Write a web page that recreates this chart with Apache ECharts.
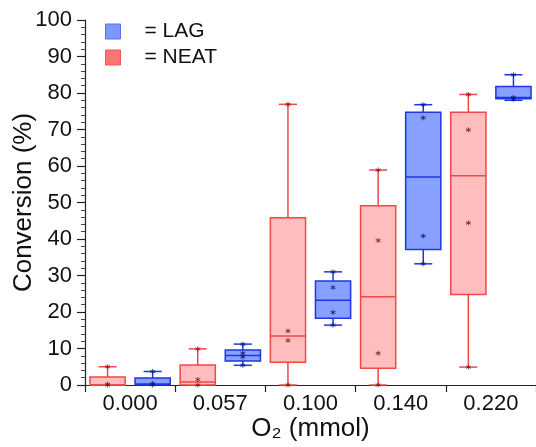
<!DOCTYPE html>
<html>
<head>
<meta charset="utf-8">
<script src="https://cdn.jsdelivr.net/npm/echarts@6/dist/echarts.min.js"></script>
<style>
html,body{margin:0;padding:0;background:#fff;}
#chart{width:536px;height:447px;}
</style>
</head>
<body>
<div id="chart"></div>
<script>
// ---- data ----
const categories = ['0.000', '0.057', '0.100', '0.140', '0.220'];
const yTicks = [0, 10, 20, 30, 40, 50, 60, 70, 80, 90, 100];
// [min, Q1, median, Q3, max]
const neatStats = [
  [0, 0, 0, 2.2, 5.0],
  [0, 0, 0.8, 5.5, 9.9],
  [0, 6.2, 13.4, 45.8, 76.9],
  [0, 4.6, 24.2, 49.1, 58.9],
  [4.9, 24.8, 57.3, 74.7, 79.6]
];
const lagStats = [
  [0, 0.1, 0.3, 1.9, 3.7],
  [5.4, 6.6, 8.1, 9.6, 11.2],
  [16.4, 18.3, 23.2, 28.5, 31.0],
  [33.2, 37.1, 57.0, 74.7, 76.8],
  [78.0, 78.4, 78.8, 81.8, 85.0]
];
// individual measurements per category
const neatPoints = [
  [0, 0.2, 5.0],
  [0, 1.5, 9.9],
  [0, 12.2, 14.8, 76.9],
  [0, 8.7, 39.6, 58.9],
  [4.9, 44.4, 69.9, 79.6]
];
const lagPoints = [
  [0, 0.4, 3.7],
  [5.4, 7.7, 8.7, 11.2],
  [16.4, 19.9, 26.7, 31.0],
  [33.2, 40.8, 73.2, 76.8],
  [78.3, 78.8, 85.0]
];

// ---- build ----
const toBoxData = stats => stats.map((s, i) => [i].concat(s));
const toPointData = pts => {
  const out = [];
  pts.forEach((arr, i) => arr.forEach(v => out.push([i, v])));
  return out;
};

const NEAT = {stroke: '#f04848', fill: '#ffbdbd', pt: '#7a1a1a', legend: '#ff7474'};
const LAG = {stroke: '#1f35e6', fill: '#88a0ff', pt: '#101870', legend: '#7e96ff'};

function boxRenderer(offsetFrac, col) {
  return function (params, api) {
    const idx = api.value(0);
    const band = api.size([1, 0])[0];
    const cx = api.coord([idx, 0])[0] + offsetFrac * band;
    const w = band * 0.39;
    const cap = band * 0.2;
    const y = k => api.coord([idx, api.value(k)])[1];
    const yMin = y(1), yQ1 = y(2), yMed = y(3), yQ3 = y(4), yMax = y(5);
    const ls = {stroke: col.stroke, lineWidth: 1.5};
    return {
      type: 'group',
      children: [
        {type: 'line', shape: {x1: cx, y1: yMax, x2: cx, y2: yQ3}, style: ls},
        {type: 'line', shape: {x1: cx, y1: yQ1, x2: cx, y2: yMin}, style: ls},
        {type: 'line', shape: {x1: cx - cap / 2, y1: yMax, x2: cx + cap / 2, y2: yMax}, style: ls},
        {type: 'line', shape: {x1: cx - cap / 2, y1: yMin, x2: cx + cap / 2, y2: yMin}, style: ls},
        {type: 'rect', shape: {x: cx - w / 2, y: yQ3, width: w, height: yQ1 - yQ3},
          style: {fill: col.fill, stroke: col.stroke, lineWidth: 1.5}},
        {type: 'line', shape: {x1: cx - w / 2, y1: yMed, x2: cx + w / 2, y2: yMed}, style: ls}
      ]
    };
  };
}

const asterisk = 'path://M0,-1L0,1M-0.87,-0.5L0.87,0.5M-0.87,0.5L0.87,-0.5';

const chart = echarts.init(document.getElementById('chart'), null, {renderer: 'canvas'});
const font = 'Liberation Sans, Arial, sans-serif';
chart.setOption({
  animation: false,
  backgroundColor: '#fff',
  textStyle: {fontFamily: font},
  grid: {left: 85, right: 0, top: 20, bottom: 60, containLabel: false},
  legend: {
    orient: 'vertical',
    left: 105, top: 21,
    padding: 0,
    itemWidth: 15, itemHeight: 15, itemGap: 5,
    icon: 'rect',
    selectedMode: false,
    formatter: '= {name}',
    textStyle: {fontSize: 21, color: '#111', fontFamily: font, padding: [0, 0, 0, 19]},
    data: [
      {name: 'LAG', itemStyle: {color: LAG.legend, borderColor: '#5a70f0', borderWidth: 1}},
      {name: 'NEAT', itemStyle: {color: NEAT.legend, borderColor: '#f05a5a', borderWidth: 1}}
    ]
  },
  xAxis: {
    type: 'category',
    data: categories,
    boundaryGap: true,
    name: 'O\u2082 (mmol)',
    nameLocation: 'middle',
    nameGap: 31,
    nameMoveOverlap: false,
    nameTextStyle: {fontSize: 26, color: '#111', fontFamily: font},
    axisLine: {lineStyle: {color: '#222', width: 1.2}},
    axisTick: {show: true, length: 7, lineStyle: {color: '#222', width: 1.2}},
    axisLabel: {fontSize: 22, color: '#111', margin: 8, fontFamily: font},
    splitLine: {show: false}
  },
  yAxis: {
    type: 'value',
    min: yTicks[0], max: yTicks[yTicks.length - 1], interval: 10,
    name: 'Conversion (%)',
    nameLocation: 'middle',
    nameGap: 48,
    nameMoveOverlap: false,
    nameTextStyle: {fontSize: 26, color: '#111', fontFamily: font},
    axisLine: {show: true, lineStyle: {color: '#222', width: 1.2}},
    axisTick: {show: true, length: 8, lineStyle: {color: '#222', width: 1.2}},
    minorTick: {show: true, splitNumber: 5, length: 4, lineStyle: {color: '#444', width: 1}},
    axisLabel: {fontSize: 22, color: '#111', margin: 13, fontFamily: font},
    splitLine: {show: false}
  },
  series: [
    {
      name: 'NEAT', type: 'custom', renderItem: boxRenderer(-0.25, NEAT),
      data: toBoxData(neatStats), encode: {x: 0, y: [1, 2, 3, 4, 5]}, z: 2
    },
    {
      name: 'LAG', type: 'custom', renderItem: boxRenderer(0.25, LAG),
      data: toBoxData(lagStats), encode: {x: 0, y: [1, 2, 3, 4, 5]}, z: 2
    },
    {
      name: 'NEAT', type: 'scatter', data: toPointData(neatPoints),
      symbol: asterisk, symbolSize: 5, symbolOffset: [-22.5, 0],
      itemStyle: {color: NEAT.pt, borderColor: NEAT.pt, borderWidth: 1}, z: 3
    },
    {
      name: 'LAG', type: 'scatter', data: toPointData(lagPoints),
      symbol: asterisk, symbolSize: 5, symbolOffset: [22.5, 0],
      itemStyle: {color: LAG.pt, borderColor: LAG.pt, borderWidth: 1}, z: 3
    }
  ]
});
</script>
</body>
</html>
